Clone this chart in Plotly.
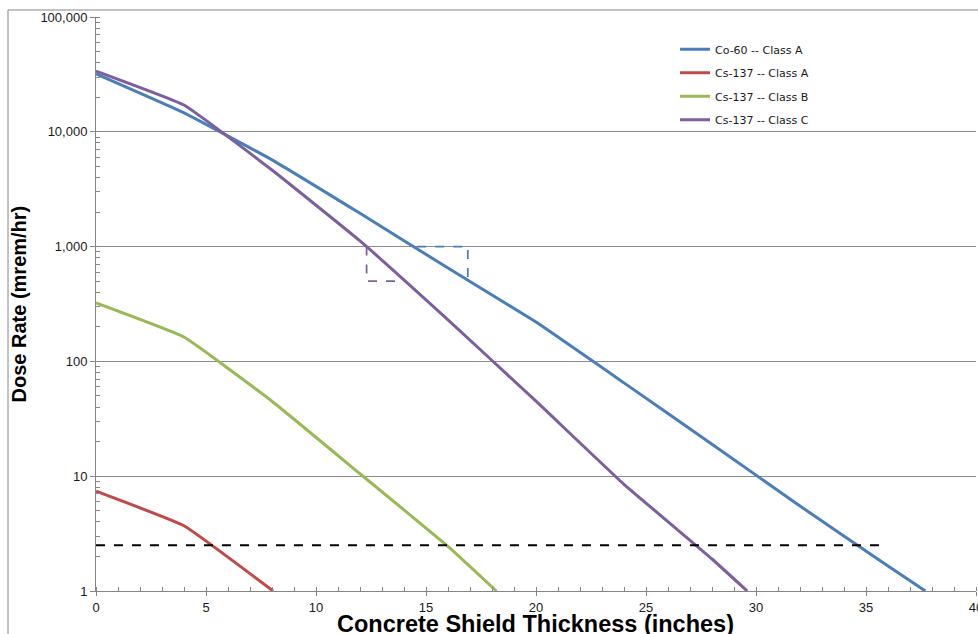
import plotly.graph_objects as go

# ---- data ----
co60_a_x = [0, 4, 8, 12, 16, 20, 24, 28, 32, 36, 37.7]
co60_a_y = [31900, 14600, 5700, 1950, 650, 220, 65, 19, 5.5, 1.65, 1.0]

cs137_a_x = [0, 4, 8.05]
cs137_a_y = [7.4, 3.7, 1.0]

cs137_b_x = [0, 4, 8, 12, 16, 18.2]
cs137_b_y = [323, 163, 45, 10.5, 2.45, 1.0]

cs137_c_x = [0, 4, 8, 12, 16, 20, 24, 28, 29.6]
cs137_c_y = [33800, 17100, 4650, 1120, 230, 45, 8.5, 1.9, 1.0]

limit_x = [0, 36.0]
limit_y = [2.5, 2.5]

box_c_x = [12.3, 12.3, 14.05]
box_c_y = [1000, 500, 500]
box_a_x = [14.6, 16.9, 16.9]
box_a_y = [1000, 1000, 500]

series_names = ["Co-60 -- Class A", "Cs-137 -- Class A", "Cs-137 -- Class B", "Cs-137 -- Class C"]
x_ticks = [0, 5, 10, 15, 20, 25, 30, 35, 40]
y_ticks = [1, 10, 100, 1000, 10000, 100000]
y_tick_labels = ["1", "10", "100", "1,000", "10,000", "100,000"]

colors = ["#4A7EBB", "#BE4B48", "#98B954", "#7D5FA0"]

fig = go.Figure()
for i, (xs, ys) in enumerate([(co60_a_x, co60_a_y), (cs137_a_x, cs137_a_y),
                              (cs137_b_x, cs137_b_y), (cs137_c_x, cs137_c_y)]):
    fig.add_trace(go.Scatter(x=xs, y=ys, mode="lines", name=series_names[i],
                             line=dict(color=colors[i], width=3, shape="spline", smoothing=0.3),
                             legendgroup=f"g{i}"))

fig.add_trace(go.Scatter(x=limit_x, y=limit_y, mode="lines", showlegend=False,
                         line=dict(color="black", width=2, dash="dash")))
fig.add_trace(go.Scatter(x=box_c_x, y=box_c_y, mode="lines", showlegend=False,
                         line=dict(color="#7D5FA0", width=1.75, dash="dash")))
fig.add_trace(go.Scatter(x=box_a_x, y=box_a_y, mode="lines", showlegend=False,
                         line=dict(color="#4A7EBB", width=1.75, dash="dash")))

axis_color = "#868686"
fig.update_layout(
    width=978, height=634,
    margin=dict(l=96, r=2, t=17, b=43),
    paper_bgcolor="white", plot_bgcolor="white",
    font=dict(family="Liberation Sans, Arial", size=13, color="#1a1a1a"),
    showlegend=True,
    legend=dict(x=0.658, y=0.969, xanchor="left", yanchor="top",
                font=dict(family="DejaVu Sans", size=11, color="#1a1a1a"),
                bgcolor="rgba(0,0,0,0)", tracegroupgap=4.5),
    xaxis=dict(range=[0, 40], tickvals=x_ticks, showgrid=False, zeroline=False,
               showline=True, linecolor=axis_color, linewidth=1,
               ticks="outside", ticklen=4, tickcolor=axis_color,
               ticklabeloverflow="allow", automargin=False,
               minor=dict(dtick=1, ticks="inside", ticklen=4, tickcolor=axis_color, showgrid=False),
               tickfont=dict(size=13)),
    yaxis=dict(type="log", range=[0, 5], tickvals=y_ticks, ticktext=y_tick_labels,
               showgrid=True, gridcolor="#8c8c8c", gridwidth=1, zeroline=False,
               showline=True, linecolor=axis_color, linewidth=1,
               ticks="outside", ticklen=5, tickcolor=axis_color, automargin=False,
               minor=dict(dtick="D1", ticks="inside", ticklen=4, tickcolor=axis_color, showgrid=False),
               tickfont=dict(size=13)),
    annotations=[
        dict(text="<b>Concrete Shield Thickness (inches)</b>", xref="paper", yref="paper",
             x=0.4994, y=-0.0305, xanchor="center", yanchor="top", showarrow=False,
             font=dict(family="Liberation Sans, Arial", size=23.5, color="black")),
        dict(text="<b>Dose Rate (mrem/hr)</b>", xref="paper", yref="paper",
             x=-0.087, y=0.5, xanchor="center", yanchor="middle", textangle=-90, showarrow=False,
             font=dict(family="Liberation Sans, Arial", size=20, color="black")),
    ],
    shapes=[dict(type="rect", xref="paper", yref="paper", x0=-0.1, x1=1.005, y0=-0.2, y1=1.0122,
                 line=dict(color=axis_color, width=1), fillcolor="rgba(0,0,0,0)", layer="below")],
)

fig.write_html("out.html", config={"displayModeBar": False},
               post_script="document.body.style.margin='0px';document.body.style.overflow='hidden';")
